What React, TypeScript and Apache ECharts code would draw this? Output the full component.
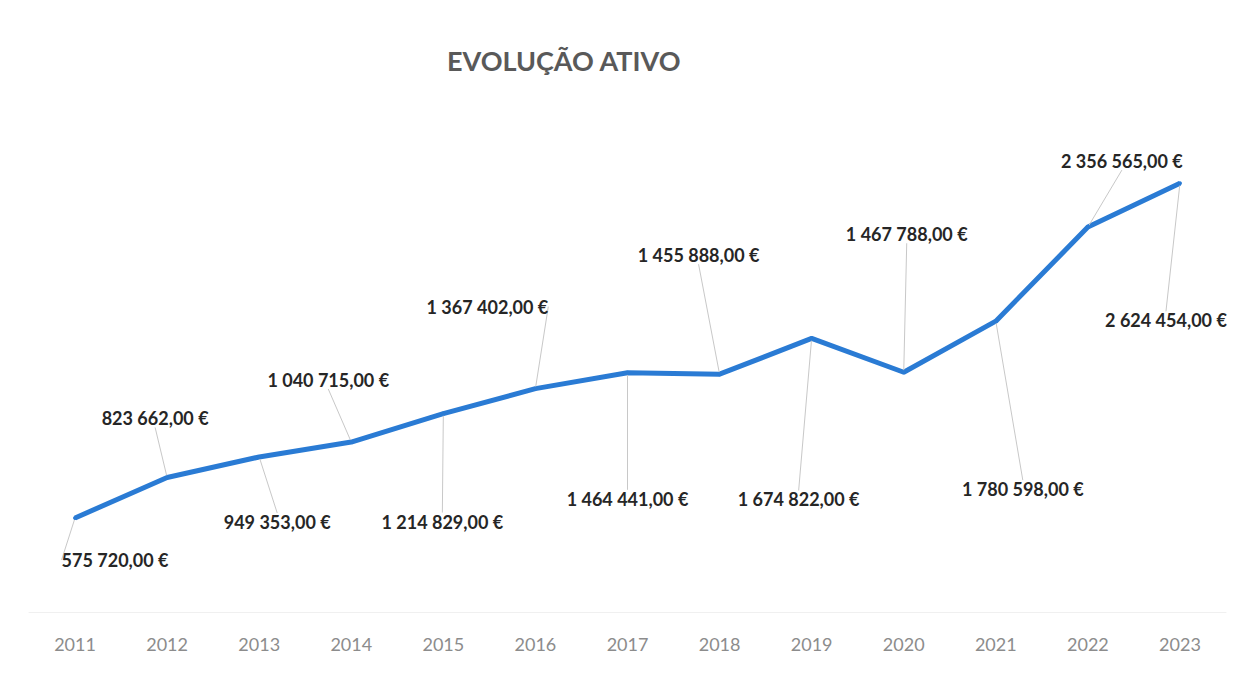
import React, { useEffect, useRef } from "react";
import * as echarts from "echarts";

const years = ["2011", "2012", "2013", "2014", "2015", "2016", "2017", "2018", "2019", "2020", "2021", "2022", "2023"];
const ativo = [575720, 823662, 949353, 1040715, 1214829, 1367402, 1464441, 1455888, 1674822, 1467788, 1780598, 2356565, 2624454];

// label offsets (styling only): dx, dy from default "top" label position
const labelDx = [40, -12, 18, -23, -1, -48, 0, -21, -13, 3, 27, 34, -14];
const labelDy = [68, -33, 91, -36, 134, -56, 152, -93, 187, -112, 194, -40, 163];

const fmt = (v: number) => {
  const s = Math.round(v).toString().replace(/\B(?=(\d{3})+(?!\d))/g, " ");
  return s + ",00 €";
};

export default function App() {
  const ref = useRef<HTMLDivElement>(null);
  useEffect(() => {
    if (!ref.current) return;
    const chart = echarts.init(ref.current, null, { renderer: "svg" });
    chart.setOption({
      animation: false,
      backgroundColor: "#ffffff",
      title: {
        text: "EVOLUÇÃO ATIVO",
        left: 434,
        top: 34,
        textStyle: { fontFamily: "Lato", fontWeight: "bold", fontSize: 27, color: "#595959" },
      },
      grid: { left: 21, right: 14, top: 114, bottom: 58 },
      xAxis: {
        type: "category",
        data: years,
        boundaryGap: true,
        axisLine: { show: true, lineStyle: { color: "#f0f0f0", width: 1 } },
        axisTick: { show: false },
        axisLabel: { color: "#8c8c8c", fontFamily: "Lato", fontSize: 18, margin: 23 },
      },
      yAxis: {
        type: "value",
        min: 0,
        max: 3000000,
        show: false,
        splitLine: { show: false },
      },
      series: [
        {
          type: "line",
          data: ativo,
          symbol: "circle",
          symbolSize: 4,
          showSymbol: true,
          itemStyle: { color: "#2a7bd4" },
          lineStyle: { color: "#2a7bd4", width: 5 },
          label: {
            show: true,
            position: "top",
            formatter: (p: any) => fmt(p.value),
            fontFamily: "Lato",
            fontWeight: "bold",
            fontSize: 18,
            color: "#262626",
            padding: [10, 6],
          },
          labelLine: { show: true, lineStyle: { color: "#c8c8c8", width: 1 } },
          labelLayout: (p: any) => ({ dx: labelDx[p.dataIndex], dy: labelDy[p.dataIndex] }),
        },
      ],
    });
    return () => chart.dispose();
  }, []);
  return <div ref={ref} style={{ width: 1232, height: 662 }} />;
}
